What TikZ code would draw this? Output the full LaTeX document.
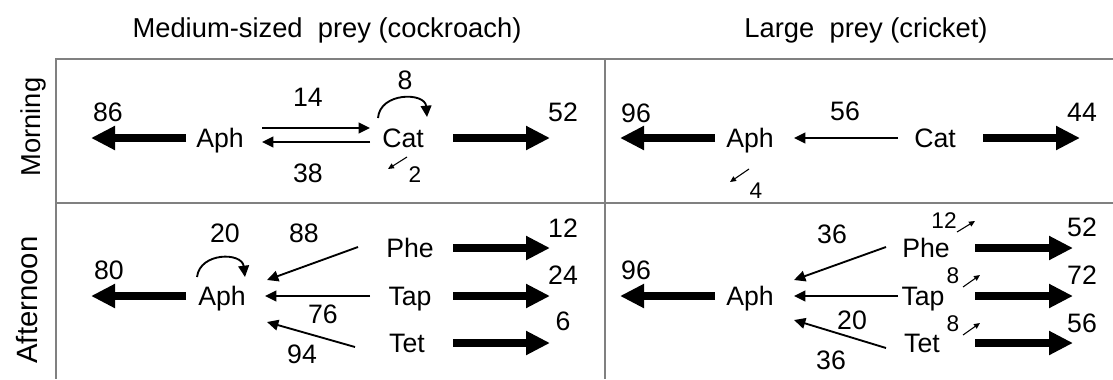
\documentclass[tikz,border=0pt]{standalone}
\usepackage{fontspec}
\setmainfont{Liberation Sans}
\usetikzlibrary{calc, arrows.meta}

\tikzset{
    lbl/.style={font=\fontsize{20}{22}\selectfont, inner sep=0pt, text height=14.3pt, text depth=0pt},
    small/.style={font=\fontsize{17}{19}\selectfont, inner sep=0pt, text height=12.2pt, text depth=0pt},
    head/.style={font=\fontsize{20.5}{23}\selectfont, inner sep=0pt},
    flow/.style={line width=1.4pt, -{Triangle[length=8.5pt, width=8pt]}},
    bigflow/.style={line width=6pt, -{Triangle[length=18pt, width=17pt]}},
    tinyflow/.style={line width=0.8pt, -{Triangle[length=4.5pt, width=4pt]}},
    frame/.style={draw=Gray, line width=1.5pt}
}
\colorlet{Gray}{black!50}

\begin{document}
\begin{tikzpicture}[x=0.75pt, y=-0.75pt]
    \useasboundingbox (0,0) rectangle (1113,379);
    % frame
    \draw[frame] (1113,59) -- (56,59) -- (56,379);
    \draw[frame] (56,203) -- (1113,203);
    \draw[frame] (605,59) -- (605,379);
    \node[head] (tmed) at (327,30) {Medium-sized\ \ prey (cockroach)};
    \node[head] (tlarge) at (866,30) {Large\ \ prey (cricket)};
    \node[head, rotate=90] (morn) at (33,127) {Morning};
    \node[head, rotate=90, font=\fontsize{22}{24}\selectfont] (aft) at (27,300) {Afternoon};

    % morning, cockroach
    \node[lbl] (aph1) at (220,138) {Aph};
    \node[lbl] (cat1) at (403,138) {Cat};
    \draw[bigflow] ($(aph1)+(-34,0)$) --++ (-95,0);
    \draw[flow] ($(aph1)+(42,-10)$) -- ($(cat1)+(-33,-10)$);
    \draw[flow] ($(cat1)+(-33,4)$) -- ($(aph1)+(42,4)$);
    \draw[flow] ($(cat1)+(-25,-20)$) .. controls ($(cat1)+(-23,-46)$) and ($(cat1)+(22,-46)$) .. ($(cat1)+(24,-21)$);
    \draw[tinyflow] ($(cat1)+(4,19)$) -- ($(cat1)+(-15,31)$);
    \draw[bigflow] ($(cat1)+(50,0)$) --++ (97,0);
    \node[lbl] (n86) at (108,112) {86};
    \node[lbl] (n14) at (308,97) {14};
    \node[lbl] (n38) at (308,173) {38};
    \node[lbl] (n8) at (405,80) {8};
    \node[small] (n2) at (415,174) {2};
    \node[lbl] (n52) at (563,112) {52};

    % morning, cricket
    \node[lbl] (aph2) at (750,138) {Aph};
    \node[lbl] (cat2) at (935,138) {Cat};
    \draw[bigflow] ($(aph2)+(-35,0)$) --++ (-95,0);
    \draw[flow] ($(cat2)+(-37,0)$) -- ($(aph2)+(44,0)$);
    \draw[tinyflow] ($(aph2)+(-1,31)$) -- ($(aph2)+(-20,44)$);
    \draw[bigflow] ($(cat2)+(48,0)$) --++ (97,0);
    \node[lbl] (n96) at (636,113) {96};
    \node[lbl] (n56) at (845,111) {56};
    \node[lbl] (n44) at (1082,112) {44};
    \node[small] (n4) at (756,190) {4};

    % afternoon, cockroach
    \node[lbl] (aph3) at (222,296) {Aph};
    \node[lbl] (phe3) at (410,248) {Phe};
    \node[lbl] (tap3) at (410,296) {Tap};
    \node[lbl] (tet3) at (407,343) {Tet};
    \draw[bigflow] ($(aph3)+(-36,0)$) --++ (-95,0);
    \draw[flow] ($(aph3)+(-25,-19)$) .. controls ($(aph3)+(-22,-44)$) and ($(aph3)+(20,-44)$) .. ($(aph3)+(23,-19)$);
    \draw[flow] ($(phe3)+(-52,-1)$) -- ($(aph3)+(45,-16)$);
    \draw[flow] ($(tap3)+(-40,0)$) -- ($(aph3)+(43,0)$);
    \draw[flow] ($(tet3)+(-52,4)$) -- ($(aph3)+(45,26)$);
    \draw[bigflow] ($(phe3)+(43,0)$) --++ (97,0);
    \draw[bigflow] ($(tap3)+(43,0)$) --++ (97,0);
    \draw[bigflow] ($(tet3)+(46,0)$) --++ (97,0);
    \node[lbl] (n80) at (109,270) {80};
    \node[lbl] (n20) at (225,233) {20};
    \node[lbl] (n88) at (304,233) {88};
    \node[lbl] (n76) at (323,314) {76};
    \node[lbl] (n94) at (302,354) {94};
    \node[lbl] (n12) at (563,228) {12};
    \node[lbl] (n24) at (563,275) {24};
    \node[lbl] (n6) at (563,321) {6};

    % afternoon, cricket
    \node[lbl] (aph4) at (750,296) {Aph};
    \node[lbl] (phe4) at (926,248) {Phe};
    \node[lbl] (tap4) at (923,296) {Tap};
    \node[lbl] (tet4) at (922,343) {Tet};
    \draw[bigflow] ($(aph4)+(-35,0)$) --++ (-95,0);
    \draw[flow] ($(phe4)+(-40,-1)$) -- ($(aph4)+(44,-16)$);
    \draw[flow] ($(tap4)+(-25,0)$) -- ($(aph4)+(44,0)$);
    \draw[flow] ($(tet4)+(-36,5)$) -- ($(aph4)+(44,24)$);
    \draw[tinyflow] ($(phe4)+(31,-16)$) -- ($(phe4)+(49,-27)$);
    \draw[tinyflow] ($(tap4)+(40,-9)$) -- ($(tap4)+(57,-21)$);
    \draw[tinyflow] ($(tet4)+(41,-8)$) -- ($(tet4)+(58,-20)$);
    \draw[bigflow] ($(phe4)+(49,0)$) --++ (98,0);
    \draw[bigflow] ($(tap4)+(52,0)$) --++ (98,0);
    \draw[bigflow] ($(tet4)+(53,0)$) --++ (98,0);
    \node[lbl] (n96b) at (636,270) {96};
    \node[lbl] (n36) at (832,234) {36};
    \node[lbl] (n20b) at (852,320) {20};
    \node[lbl] (n36b) at (831,360) {36};
    \node[small] (n12b) at (944,220) {12};
    \node[small] (n8b) at (953,275) {8};
    \node[small] (n8c) at (953,323) {8};
    \node[lbl] (n52b) at (1082,227) {52};
    \node[lbl] (n72) at (1082,275) {72};
    \node[lbl] (n56b) at (1082,323) {56};
\end{tikzpicture}
\end{document}
